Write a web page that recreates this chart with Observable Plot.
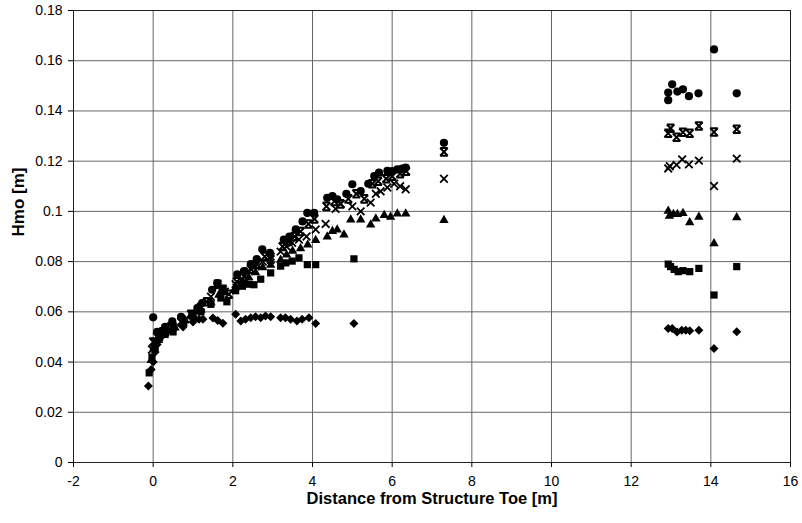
<!DOCTYPE html>
<html><head><meta charset="utf-8">
<script src="https://cdn.jsdelivr.net/npm/d3@7"></script>
<script src="https://cdn.jsdelivr.net/npm/@observablehq/plot@0.6"></script>
<style>html,body{margin:0;padding:0;background:#fff;}svg{display:block;}</style>
</head><body><div id="chart"></div>
<script>
// Tick values
const xTicks = [-2, 0, 2, 4, 6, 8, 10, 12, 14, 16];
const yTicks = [0, 0.02, 0.04, 0.06, 0.08, 0.1, 0.12, 0.14, 0.16, 0.18];
const xTitle = "Distance from Structure Toe [m]";
const yTitle = "Hmo [m]";

// Series: diamonds (lowest)
const diamondX = [-0.12, -0.05, 0, 0.05, 0.1, 0.2, 0.35, 0.5, 0.75, 1.0, 1.15, 1.25, 1.5, 1.62, 1.75, 2.07, 2.2, 2.32, 2.45, 2.57, 2.7, 2.82, 2.95, 3.2, 3.32, 3.45, 3.61, 3.74, 3.91, 4.08, 5.04, 12.93, 13.03, 13.15, 13.27, 13.37, 13.47, 13.7, 14.08, 14.65];
const diamondY = [0.0305, 0.037, 0.040, 0.044, 0.047, 0.050, 0.052, 0.053, 0.054, 0.056, 0.057, 0.057, 0.0575, 0.0565, 0.0555, 0.059, 0.0563, 0.057, 0.0576, 0.058, 0.0576, 0.0583, 0.058, 0.0576, 0.0576, 0.057, 0.0563, 0.057, 0.0576, 0.0554, 0.0554, 0.0534, 0.0534, 0.052, 0.0527, 0.0527, 0.0525, 0.0527, 0.0454, 0.0521];

// Series: squares
const squareX = [-0.1, -0.03, 0.05, 0.15, 0.3, 0.5, 0.77, 1.0, 1.2, 1.45, 1.7, 1.85, 2.07, 2.24, 2.4, 2.53, 2.7, 2.95, 3.2, 3.33, 3.49, 3.66, 3.87, 4.08, 5.04, 12.93, 12.99, 13.08, 13.18, 13.30, 13.47, 13.70, 14.08, 14.65];
const squareY = [0.0357, 0.042, 0.046, 0.049, 0.051, 0.052, 0.0557, 0.058, 0.060, 0.063, 0.0655, 0.064, 0.0684, 0.0702, 0.071, 0.0708, 0.073, 0.0755, 0.0782, 0.0795, 0.0802, 0.0815, 0.0788, 0.0788, 0.0811, 0.079, 0.078, 0.0769, 0.076, 0.0764, 0.076, 0.0773, 0.0667, 0.078];

// Series: triangles
const triangleX = [-0.05, 0.02, 0.1, 0.2, 0.35, 0.55, 0.8, 1.0, 1.2, 1.45, 1.65, 1.8, 2.07, 2.24, 2.4, 2.57, 2.75, 2.95, 3.2, 3.35, 3.5, 3.7, 3.88, 4.08, 4.37, 4.5, 4.62, 4.79, 4.96, 5.21, 5.46, 5.59, 5.8, 5.96, 6.13, 6.34, 7.30, 12.93, 12.96, 13.06, 13.16, 13.30, 13.47, 13.70, 14.08, 14.65];
const triangleY = [0.041, 0.046, 0.049, 0.051, 0.053, 0.054, 0.057, 0.059, 0.061, 0.064, 0.067, 0.068, 0.070, 0.072, 0.074, 0.076, 0.078, 0.079, 0.081, 0.083, 0.0845, 0.0855, 0.087, 0.0888, 0.0902, 0.0924, 0.093, 0.091, 0.097, 0.097, 0.095, 0.0974, 0.0988, 0.0981, 0.0994, 0.0994, 0.0968, 0.1005, 0.0985, 0.0992, 0.0992, 0.0996, 0.0959, 0.0981, 0.0875, 0.0979];

// Series: crosses (x)
const crossX = [-0.03, 0.05, 0.15, 0.3, 0.5, 0.8, 1.0, 1.2, 1.45, 1.62, 1.8, 2.07, 2.24, 2.41, 2.57, 2.75, 2.95, 3.2, 3.35, 3.49, 3.66, 3.85, 4.08, 4.33, 4.58, 4.71, 5.0, 5.21, 5.46, 5.59, 5.71, 5.88, 6.05, 6.2, 6.34, 7.30, 12.93, 12.97, 13.14, 13.28, 13.45, 13.70, 14.08, 14.65];
const crossY = [0.045, 0.048, 0.050, 0.052, 0.054, 0.057, 0.059, 0.062, 0.066, 0.070, 0.068, 0.071, 0.073, 0.0762, 0.0782, 0.080, 0.082, 0.084, 0.086, 0.0875, 0.0888, 0.090, 0.0928, 0.095, 0.101, 0.103, 0.102, 0.100, 0.1035, 0.107, 0.108, 0.1095, 0.111, 0.110, 0.1088, 0.113, 0.1171, 0.118, 0.1185, 0.1207, 0.1187, 0.1202, 0.1101, 0.121];

// Series: asterisks (x with bar)
const starX = [0, 0.1, 0.25, 0.45, 0.7, 0.95, 1.15, 1.35, 1.62, 1.75, 1.9, 2.1, 2.28, 2.45, 2.6, 2.8, 2.95, 3.25, 3.4, 3.55, 3.7, 3.9, 4.05, 4.35, 4.55, 4.7, 4.9, 5.1, 5.3, 5.5, 5.65, 5.85, 6.0, 6.2, 6.35, 7.30, 12.93, 12.99, 13.14, 13.30, 13.47, 13.70, 14.08, 14.65];
const starY = [0.048, 0.050, 0.052, 0.054, 0.056, 0.059, 0.061, 0.064, 0.071, 0.069, 0.067, 0.072, 0.074, 0.077, 0.079, 0.082, 0.081, 0.086, 0.088, 0.090, 0.092, 0.095, 0.097, 0.102, 0.104, 0.103, 0.105, 0.107, 0.105, 0.111, 0.112, 0.113, 0.114, 0.115, 0.116, 0.1237, 0.1311, 0.1331, 0.1295, 0.1315, 0.1311, 0.134, 0.1316, 0.1327];

// Series: circles (highest)
const circleX = [0, 0.1, 0.3, 0.48, 0.7, 0.98, 1.11, 1.23, 1.48, 1.61, 1.75, 2.11, 2.28, 2.45, 2.6, 2.74, 2.93, 3.28, 3.42, 3.58, 3.75, 3.87, 4.04, 4.37, 4.5, 4.62, 4.85, 5.0, 5.21, 5.4, 5.55, 5.67, 5.88, 6.0, 6.13, 6.25, 6.34, 7.30, 12.93, 12.93, 13.03, 13.16, 13.30, 13.45, 13.69, 14.08, 14.65];
const circleY = [0.0578, 0.052, 0.054, 0.0562, 0.058, 0.0589, 0.0615, 0.0635, 0.0688, 0.0714, 0.069, 0.0749, 0.0762, 0.079, 0.081, 0.0849, 0.0835, 0.0888, 0.090, 0.0928, 0.096, 0.0994, 0.0994, 0.1054, 0.1061, 0.1048, 0.107, 0.1108, 0.1081, 0.111, 0.1141, 0.1154, 0.1161, 0.116, 0.1167, 0.117, 0.1174, 0.1273, 0.1443, 0.1473, 0.1506, 0.1477, 0.1486, 0.1459, 0.147, 0.1645, 0.147];

const rows = (xs, ys) => xs.map((x, i) => ({x, y: ys[i]}));

// custom marker shapes (r = radius passed by Plot)
const sym = (f) => ({draw(ctx, size) { f(ctx, Math.sqrt(size / Math.PI)); }});
const circleS = sym((c, r) => { c.moveTo(r, 0); c.arc(0, 0, r, 0, 2 * Math.PI); });
const squareS = sym((c, r) => { c.rect(-r, -r, 2 * r, 2 * r); });
const diamondS = sym((c, r) => { c.moveTo(0, -r); c.lineTo(r, 0); c.lineTo(0, r); c.lineTo(-r, 0); c.closePath(); });
const triS = sym((c, r) => { c.moveTo(0, -r); c.lineTo(r, r * 0.75); c.lineTo(-r, r * 0.75); c.closePath(); });
const timesS = sym((c, r) => { c.moveTo(-r, -r); c.lineTo(r, r); c.moveTo(-r, r); c.lineTo(r, -r); });
const starS = sym((c, r) => { c.moveTo(-r, -r); c.lineTo(r, r); c.moveTo(-r, r); c.lineTo(r, -r); c.moveTo(-r, -r); c.lineTo(r, -r); c.moveTo(-r, r); c.lineTo(r, r); });

const chart = Plot.plot({
  width: 802,
  height: 523,
  marginLeft: 73,
  marginRight: 12,
  marginTop: 10,
  marginBottom: 61,
  style: {fontFamily: "'Liberation Sans', Arial, sans-serif", background: "#fff", color: "#000"},
  x: {domain: [-2, 16]},
  y: {domain: [0, 0.18]},
  marks: [
    Plot.gridX(xTicks, {stroke: "#666", strokeOpacity: 1, strokeWidth: 1}),
    Plot.gridY(yTicks, {stroke: "#666", strokeOpacity: 1, strokeWidth: 1}),
    Plot.frame({stroke: "#222"}),
    Plot.axisX(xTicks, {tickFormat: d => String(d), tickSize: 5, tickPadding: 9, fontSize: 14, label: null}),
    Plot.axisY(yTicks, {tickFormat: d => String(+d.toFixed(2)), tickSize: 5, tickPadding: 6, fontSize: 14, label: null}),
    Plot.text([xTitle], {frameAnchor: "bottom", dy: 41, fontSize: 16.5, fontWeight: "bold"}),
    Plot.text([yTitle], {frameAnchor: "left", dx: -55, rotate: -90, fontSize: 17, fontWeight: "bold"}),
    Plot.dot(rows(diamondX, diamondY), {x: "x", y: "y", symbol: diamondS, r: 4.5, fill: "#000", stroke: "none"}),
    Plot.dot(rows(squareX, squareY), {x: "x", y: "y", symbol: squareS, r: 3.6, fill: "#000", stroke: "none"}),
    Plot.dot(rows(triangleX, triangleY), {x: "x", y: "y", symbol: triS, r: 4.7, fill: "#000", stroke: "none"}),
    Plot.dot(rows(crossX, crossY), {x: "x", y: "y", symbol: timesS, r: 3.8, fill: "none", stroke: "#000", strokeWidth: 1.8}),
    Plot.dot(rows(starX, starY), {x: "x", y: "y", symbol: starS, r: 3.8, fill: "none", stroke: "#000", strokeWidth: 2}),
    Plot.dot(rows(circleX, circleY), {x: "x", y: "y", symbol: circleS, r: 4.1, fill: "#000", stroke: "none"})
  ]
});
document.getElementById("chart").appendChild(chart);
</script>
</body></html>
